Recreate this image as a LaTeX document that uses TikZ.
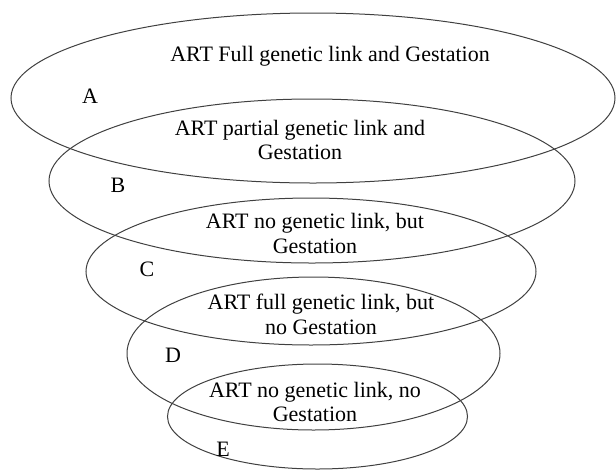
\documentclass[tikz,border=0pt]{standalone}
\usepackage{fontspec}
\setmainfont{Liberation Serif}

\begin{document}
\begin{tikzpicture}
  [x=0.5pt,y=-0.5pt,
  ring/.style={draw=black!75,line width=0.5pt},
  txt/.style={align=center,inner sep=0pt,font=\fontsize{11}{12.2}\selectfont},
  tag/.style={inner sep=0pt,font=\fontsize{11}{12.2}\selectfont}]
  \useasboundingbox (0,0) rectangle (616,472);

  \draw[ring] (313,98) ellipse [x radius=302, y radius=85];
  \draw[ring] (312,181) ellipse [x radius=263, y radius=82];
  \draw[ring] (311,271.5) ellipse [x radius=225, y radius=73.5];
  \draw[ring] (313.5,353.5) ellipse [x radius=186.5, y radius=76.5];
  \draw[ring] (317.5,416.5) ellipse [x radius=150, y radius=52.5];

  \node[txt] (textA) at (330,56) {ART Full genetic link and Gestation};
  \node[txt] (textB) at (300,140) {ART partial genetic link and\\Gestation};
  \node[txt] (textC) at (315,233.5) {ART no genetic link, but\\Gestation};
  \node[txt] (textD) at (321,314.5) {ART full genetic link, but\\no Gestation};
  \node[txt] (textE) at (315,402) {ART no genetic link, no\\Gestation};

  \node[tag] (tagA) at (90,96) {A};
  \node[tag] (tagB) at (118,185) {B};
  \node[tag] (tagC) at (147,269) {C};
  \node[tag] (tagD) at (173,355) {D};
  \node[tag] (tagE) at (223,449) {E};
\end{tikzpicture}
\end{document}
